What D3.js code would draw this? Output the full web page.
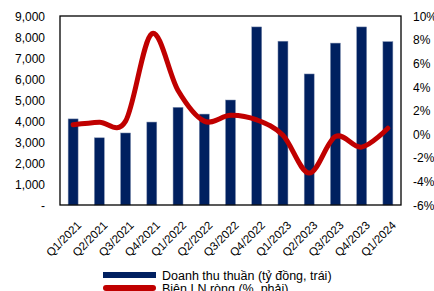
<!DOCTYPE html>
<html>
<head>
<meta charset="utf-8">
<script src="https://cdn.jsdelivr.net/npm/d3@7"></script>
<style>
	body { margin: 0; background: #fff; }
	text { font-family: "Liberation Sans", Arial, sans-serif; fill: #000; }
</style>
</head>
<body>
<svg id="chart" width="434" height="291"></svg>
<script>
// Quarter labels
const quarters = ["Q1/2021", "Q2/2021", "Q3/2021", "Q4/2021", "Q1/2022", "Q2/2022", "Q3/2022",
	"Q4/2022", "Q1/2023", "Q2/2023", "Q3/2023", "Q4/2023", "Q1/2024"];
// Doanh thu thuan (ty dong)
const revenue = [4100, 3200, 3430, 3950, 4650, 4330, 5000, 8480, 7800, 6240, 7710, 8480, 7780];
// Bien LN rong (%)
const margin = [0.8, 1.0, 1.1, 8.5, 3.7, 1.1, 1.6, 1.2, -0.1, -3.3, -0.2, -1.1, 0.5];

const leftTicks = [0, 1000, 2000, 3000, 4000, 5000, 6000, 7000, 8000, 9000];
const rightTicks = [-6, -4, -2, 0, 2, 4, 6, 8, 10];

const svg = d3.select("#chart");
const plot = { left: 60, right: 401, top: 16, bottom: 205 };

const x = d3.scaleBand()
	.domain(quarters)
	.range([plot.left, plot.right])
	.paddingInner(0.62)
	.paddingOuter(0.31);

const yL = d3.scaleLinear().domain([0, 9000]).range([plot.bottom, plot.top]);
const yR = d3.scaleLinear().domain([-6, 10]).range([plot.bottom, plot.top]);

// bars
svg.append("g")
	.selectAll("rect")
	.data(revenue)
	.join("rect")
	.attr("x", (d, i) => x(quarters[i]))
	.attr("y", d => yL(d))
	.attr("width", x.bandwidth())
	.attr("height", d => yL(0) - yL(d))
	.attr("fill", "#002060")
	.attr("stroke", "#8090b0")
	.attr("stroke-width", 0.5);

// frame
svg.append("rect")
	.attr("x", plot.left)
	.attr("y", plot.top)
	.attr("width", plot.right - plot.left)
	.attr("height", plot.bottom - plot.top)
	.attr("fill", "none")
	.attr("stroke", "#000")
	.attr("stroke-width", 1.3);

// margin line (smoothed like Excel)
const line = d3.line()
	.x((d, i) => x(quarters[i]) + x.bandwidth() / 2)
	.y(d => yR(d))
	.curve(d3.curveCatmullRom.alpha(0));

svg.append("path")
	.datum(margin)
	.attr("d", line)
	.attr("fill", "none")
	.attr("stroke", "#C00000")
	.attr("stroke-width", 5)
	.attr("stroke-linecap", "round");

// left axis
const axL = d3.axisLeft(yL)
	.tickValues(leftTicks)
	.tickSize(0)
	.tickPadding(0)
	.tickFormat(d => d === 0 ? "-" : d3.format(",")(d));
svg.append("g")
	.attr("transform", "translate(45,0)")
	.call(axL)
	.call(g => g.select(".domain").remove())
	.selectAll("text")
	.style("font-size", "12px")
	.attr("dy", "0.35em");

// right axis
const axR = d3.axisRight(yR)
	.tickValues(rightTicks)
	.tickSize(0)
	.tickPadding(0)
	.tickFormat(d => d + "%");
svg.append("g")
	.attr("transform", "translate(413,0)")
	.call(axR)
	.call(g => g.select(".domain").remove())
	.selectAll("text")
	.style("font-size", "12px")
	.attr("dy", "0.35em");

// x labels, rotated
svg.append("g")
	.selectAll("text")
	.data(quarters)
	.join("text")
	.attr("transform", d => `translate(${x(d) + x.bandwidth() / 2 + 9},${plot.bottom + 21}) rotate(-45)`)
	.attr("text-anchor", "end")
	.style("font-size", "11.5px")
	.text(d => d);

// legend
const legend = [
	{ label: "Doanh thu thuần (tỷ đồng, trái)", color: "#002060", y: 275 },
	{ label: "Biên LN ròng (%, phải)", color: "#C00000", y: 288 }
];
const lg = svg.append("g");
lg.selectAll("rect")
	.data(legend)
	.join("rect")
	.attr("x", 103)
	.attr("y", d => d.y - 3)
	.attr("width", 53)
	.attr("height", 6)
	.attr("rx", (d, i) => i === 1 ? 3 : 0)
	.attr("fill", d => d.color);
lg.selectAll("text")
	.data(legend)
	.join("text")
	.attr("x", 162)
	.attr("y", d => d.y + 5)
	.style("font-size", "12.5px")
	.text(d => d.label);
</script>
</body>
</html>
